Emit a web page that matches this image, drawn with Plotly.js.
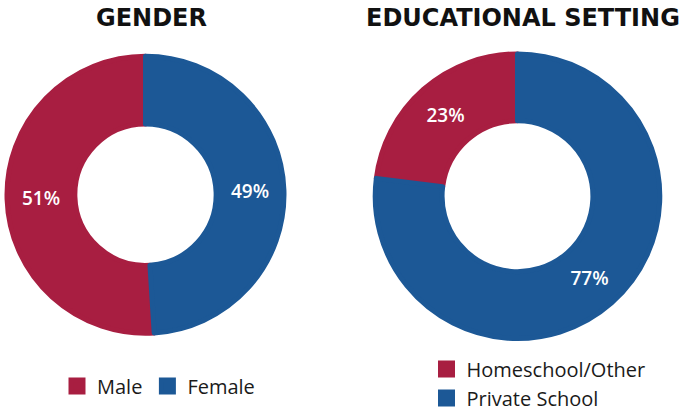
<!DOCTYPE html>
<html><head><meta charset="utf-8">
<script src="https://cdn.plot.ly/plotly-3.0.1.min.js"></script>
<style>html,body{margin:0;padding:0;background:#fff}#c{width:685px;height:411px}</style>
</head><body><div id="c"></div>
<script>
const genderLabels = ["Male", "Female"];
const genderValues = [51, 49];
const eduLabels = ["Homeschool/Other", "Private School"];
const eduValues = [23, 77];
const colors = ["#A81E41", "#1C5896"];
const titles = ["GENDER", "EDUCATIONAL SETTING"];

const W = 685, FH = 411;
const PH = 350; // plot-area height left after the legends reserve the bottom strip
const py = (px) => (PH - px) / PH;   // pixel-from-top -> paper fraction
const titleFont = "DejaVu Sans, sans-serif";
const font = "Open Sans, Noto Sans, sans-serif";
// first slice ends at 12 o'clock, going clockwise (as in the reference)
function startAngle(vals) {
  const tot = vals.reduce((a, b) => a + b, 0);
  return -360 * vals[0] / tot;
}
const common = {
  type: "pie", sort: false, direction: "clockwise",
  textinfo: "percent", textposition: "inside", insidetextorientation: "horizontal",
  textfont: {color: "#ffffff", size: 19, family: font, weight: 600},
  hoverinfo: "none"
};
const data = [
  Object.assign({}, common, {labels: genderLabels, values: genderValues, hole: 0.51,
    rotation: startAngle(genderValues),
    marker: {colors: colors, line: {width: 5, color: colors}},
    domain: {x: [(145.5-138.5)/W, (145.5+138.5)/W], y: [py(334.5), py(55.5)]}, legend: "legend"}),
  Object.assign({}, common, {labels: eduLabels, values: eduValues, hole: 0.53,
    rotation: startAngle(eduValues),
    marker: {colors: colors, line: {width: 5, color: colors}},
    domain: {x: [(517.5-142.5)/W, (517.5+142.5)/W], y: [py(339), py(54)]}, legend: "legend2"})
];
const legendFont = {size: 20, color: "#1a1a1a", family: font, weight: 500};
const layout = {
  width: W, height: FH, margin: {l: 0, r: 0, t: 0, b: 0},
  paper_bgcolor: "#fff", font: {family: font, color: "#222"},
  legend: {orientation: "h", xref: "paper", yref: "container", x: 57/W, xanchor: "left",
    y: (FH-386)/FH, yanchor: "middle", font: legendFont, itemclick: false, traceorder: "normal"},
  legend2: {orientation: "v", xref: "paper", yref: "container", x: 426.5/W, xanchor: "left",
    y: (FH-383.5)/FH, yanchor: "middle", font: legendFont, itemclick: false, traceorder: "normal"},
  annotations: [
    {text: titles[0], x: 151.5/W, y: py(18.5), xref: "paper", yref: "paper", showarrow: false,
     xanchor: "center", yanchor: "middle", font: {size: 24, color: "#111", family: titleFont, weight: 700}},
    {text: titles[1], x: 523/W, y: py(18.5), xref: "paper", yref: "paper", showarrow: false,
     xanchor: "center", yanchor: "middle", font: {size: 24, color: "#111", family: titleFont, weight: 700}}
  ]
};
Plotly.newPlot("c", data, layout, {staticPlot: true, displayModeBar: false});
</script></body></html>
